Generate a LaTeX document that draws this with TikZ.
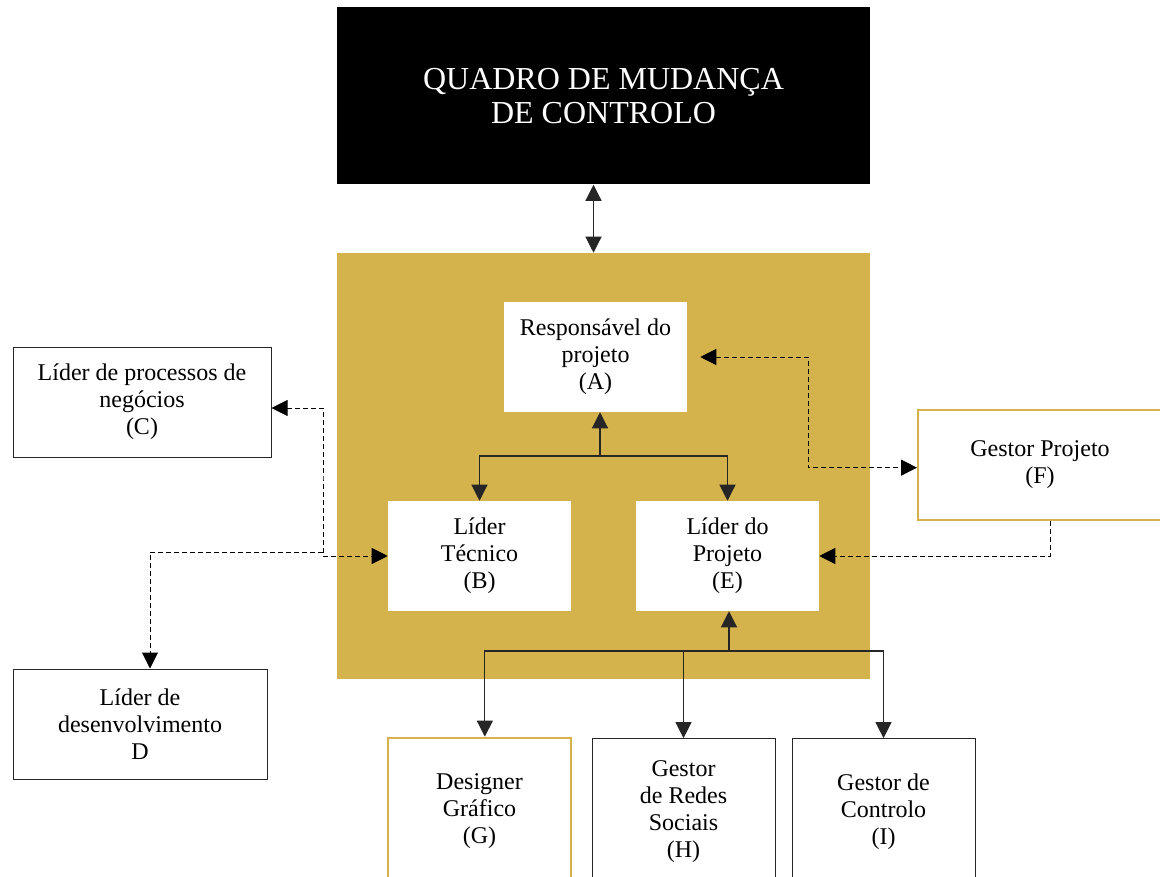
\documentclass[tikz,border=0pt]{standalone}
\usepackage{fontspec}
\setmainfont{Liberation Serif}
\usetikzlibrary{positioning,calc,arrows.meta}
\definecolor{gold}{HTML}{D4B24C}
\definecolor{linegray}{HTML}{262626}
\tikzset{font=\fontsize{18}{20.2}\selectfont}
\tikzset{
	box/.style={draw=linegray, line width=0.75pt, fill=white, align=center, inner sep=0pt, minimum width=137.25pt, minimum height=82.5pt},
	plain/.style={fill=white, align=center, inner sep=0pt, minimum width=137.25pt, minimum height=82.5pt},
	goldbox/.style={box, draw=gold, line width=1.5pt},
	tip/.style={-{Triangle[length=12pt,width=12pt]}},
	twotip/.style={{Triangle[length=12pt,width=12pt]}-{Triangle[length=12pt,width=12pt]}},
	solidlink/.style={linegray, line width=0.9pt},
	dashlink/.style={dash pattern=on 3.5pt off 2.5pt, line width=0.75pt, black}
}

\begin{document}
\begin{tikzpicture}[x=0.75pt, y=-0.75pt]
	\useasboundingbox (0,0) rectangle (1160,877);
	\begin{scope}
		% main blocks
		\node[fill=black, text=white, minimum width=399.75pt, minimum height=132.75pt, align=center, font=\fontsize{24}{26}\selectfont] (board) at (603.5,96) {QUADRO DE MUDAN\c{C}A\\DE CONTROLO};
		\node[fill=gold, minimum width=399.75pt, minimum height=319.5pt, inner sep=0pt] (gold) at (603.5,466) {};

		\node[plain] (a) at (595.5,357) {Responsável do\\projeto\\(A)};
		\node[plain] (b) at (479.5,556) {Líder\\Técnico\\(B)};
		\node[plain] (e) at (727.5,556) {Líder do\\Projeto\\(E)};

		\node[box, minimum width=193.5pt] (c) at (142,402) {Líder de processos de\\negócios\\(C)};
		\node[box, minimum width=190.5pt] (d) at (140,724) {Líder de\\desenvolvimento\\D};
		\node[goldbox, minimum width=183pt] (f) at (1040,465) {Gestor Projeto\\(F)};

		\node[goldbox, minimum height=110pt] (g) at (479.5,811) {Designer\\Gráfico\\(G)};
		\node[box, minimum height=110pt] (h) at (683.5,812) {Gestor\\de Redes\\Sociais\\(H)};
		\node[box, minimum height=110pt] (i) at (883.5,812) {Gestor de\\Controlo\\(I)};

		\coordinate (j1) at (600,456);
		\coordinate (j2) at (729,651);
		\coordinate (k1) at (323,480);
		\coordinate (k2) at (323,552);
		\coordinate (k3) at (808,410);

		% solid links
		\draw[twotip, solidlink] ([xshift=-7.5pt]board.south) -- ([xshift=-7.5pt]gold.north);
		\draw[tip, solidlink] (j1) -- (j1 |- a.south);
		\draw[tip, solidlink] (j1) -| (b.north);
		\draw[tip, solidlink] (j1) -| (e.north);
		\draw[tip, solidlink] (j2) -- (j2 |- e.south);
		\draw[tip, solidlink] (j2) -| ([xshift=4pt]g.north);
		\draw[tip, solidlink] (j2) -| (h.north);
		\draw[tip, solidlink] (j2) -| (i.north);

		% dashed links
		\draw[dashlink, twotip] ([yshift=-4.5pt]c.east) -| (k1) |- (b.west);
		\draw[dashlink, tip] (k2) -| ([xshift=7.5pt]d.north);
		\draw[dashlink, twotip] ([xshift=9.75pt]a.east) -| (k3) |- ([yshift=-2pt]f.west);
		\draw[dashlink, tip] ([xshift=7.5pt]f.south) |- (e.east);
	\end{scope}
\end{tikzpicture}
\end{document}
